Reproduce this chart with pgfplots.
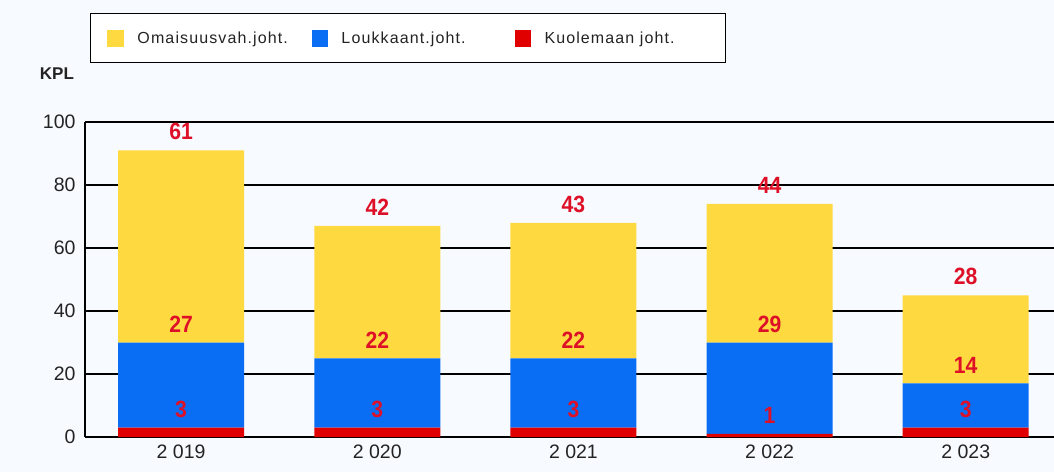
\documentclass[border=0pt]{standalone}
\usepackage{pgfplots}
\pgfplotsset{compat=1.18}
\usepackage{fontspec}
\setmainfont{Liberation Sans}

\definecolor{bg}{RGB}{247,251,255}
\definecolor{omaisuus}{RGB}{255,217,64}
\definecolor{loukk}{RGB}{10,110,245}
\definecolor{kuol}{RGB}{225,0,0}
\definecolor{lbl}{RGB}{222,16,40}
\definecolor{txt}{RGB}{35,35,35}

\pgfplotsset{
  base/.style={
    scale only axis, width=969pt, height=315pt,
    xmin=-0.49, xmax=4.45, ymin=0, ymax=100, clip=false,
  },
}

\begin{document}
\begin{tikzpicture}
\fill[bg] (-85pt,-35pt) rectangle (969pt,437pt);
% bars
\begin{axis}[base, ybar stacked, bar width=126pt,
  axis x line=bottom, axis y line=left,
  axis line style={black, line width=1.3pt, -},
  ytick={0,20,...,100}, ymajorgrids, grid style={black, line width=1.3pt},
  xtick={0,...,4}, xticklabels={2 019,2 020,2 021,2 022,2 023},
  major tick length=0pt,
  tick label style={font=\fontsize{19.5}{20}\selectfont, text=txt},
  /pgf/number format/assume math mode=true,
  yticklabel style={xshift=-6pt},
  xticklabel style={yshift=-4pt},
  legend columns=3, reverse legend,
  legend image code/.code={\fill[#1] (0pt,-8.5pt) rectangle (16pt,8.5pt);},
  legend style={at={(axis description cs:0.005,1.346)}, anchor=north west,
    draw=black, line width=1.3pt, fill=white, text=txt,
    font=\fontsize{16}{17}\selectfont\addfontfeature{LetterSpace=7},
    inner xsep=17pt, inner ysep=16pt,
    /tikz/every odd column/.append style={column sep=12pt}},
]
\addplot[fill=kuol, draw=none] coordinates {(0,3) (1,3) (2,3) (3,1) (4,3)};
\addlegendentry{\makebox[162pt][l]{Kuolemaan joht.}}
\addplot[fill=loukk, draw=none] coordinates {(0,27) (1,22) (2,22) (3,29) (4,14)};
\addlegendentry{\makebox[171pt][l]{Loukkaant.joht.}}
\addplot[fill=omaisuus, draw=none] coordinates {(0,61) (1,42) (2,43) (3,44) (4,28)};
\addlegendentry{\makebox[172pt][l]{Omaisuusvah.joht.}}
\node[font=\bfseries\fontsize{17}{18}\selectfont, text=txt]
  at (axis description cs:-0.029,1.152) {KPL};
\end{axis}
% value labels above each segment, drawn over all bars
\begin{axis}[base, hide axis, point meta=explicit, nodes near coords,
  /pgf/number format/assume math mode=true,
  every node near coord/.append style={font=\bfseries\fontsize{23.5}{24}\selectfont\addfontfeature{FakeStretch=0.9},
    text=lbl, inner sep=0pt, anchor=south, yshift=10pt}]
\addplot[only marks, mark=none] coordinates {(0,3)[3] (1,3)[3] (2,3)[3] (3,1)[1] (4,3)[3]};
\addplot[only marks, mark=none] coordinates {(0,30)[27] (1,25)[22] (2,25)[22] (3,30)[29] (4,17)[14]};
\addplot[only marks, mark=none] coordinates {(0,91)[61] (1,67)[42] (2,68)[43] (3,74)[44] (4,45)[28]};
\end{axis}
\pgfresetboundingbox
\path[use as bounding box] (-85pt,-35pt) rectangle (969pt,437pt);
\end{tikzpicture}
\end{document}
